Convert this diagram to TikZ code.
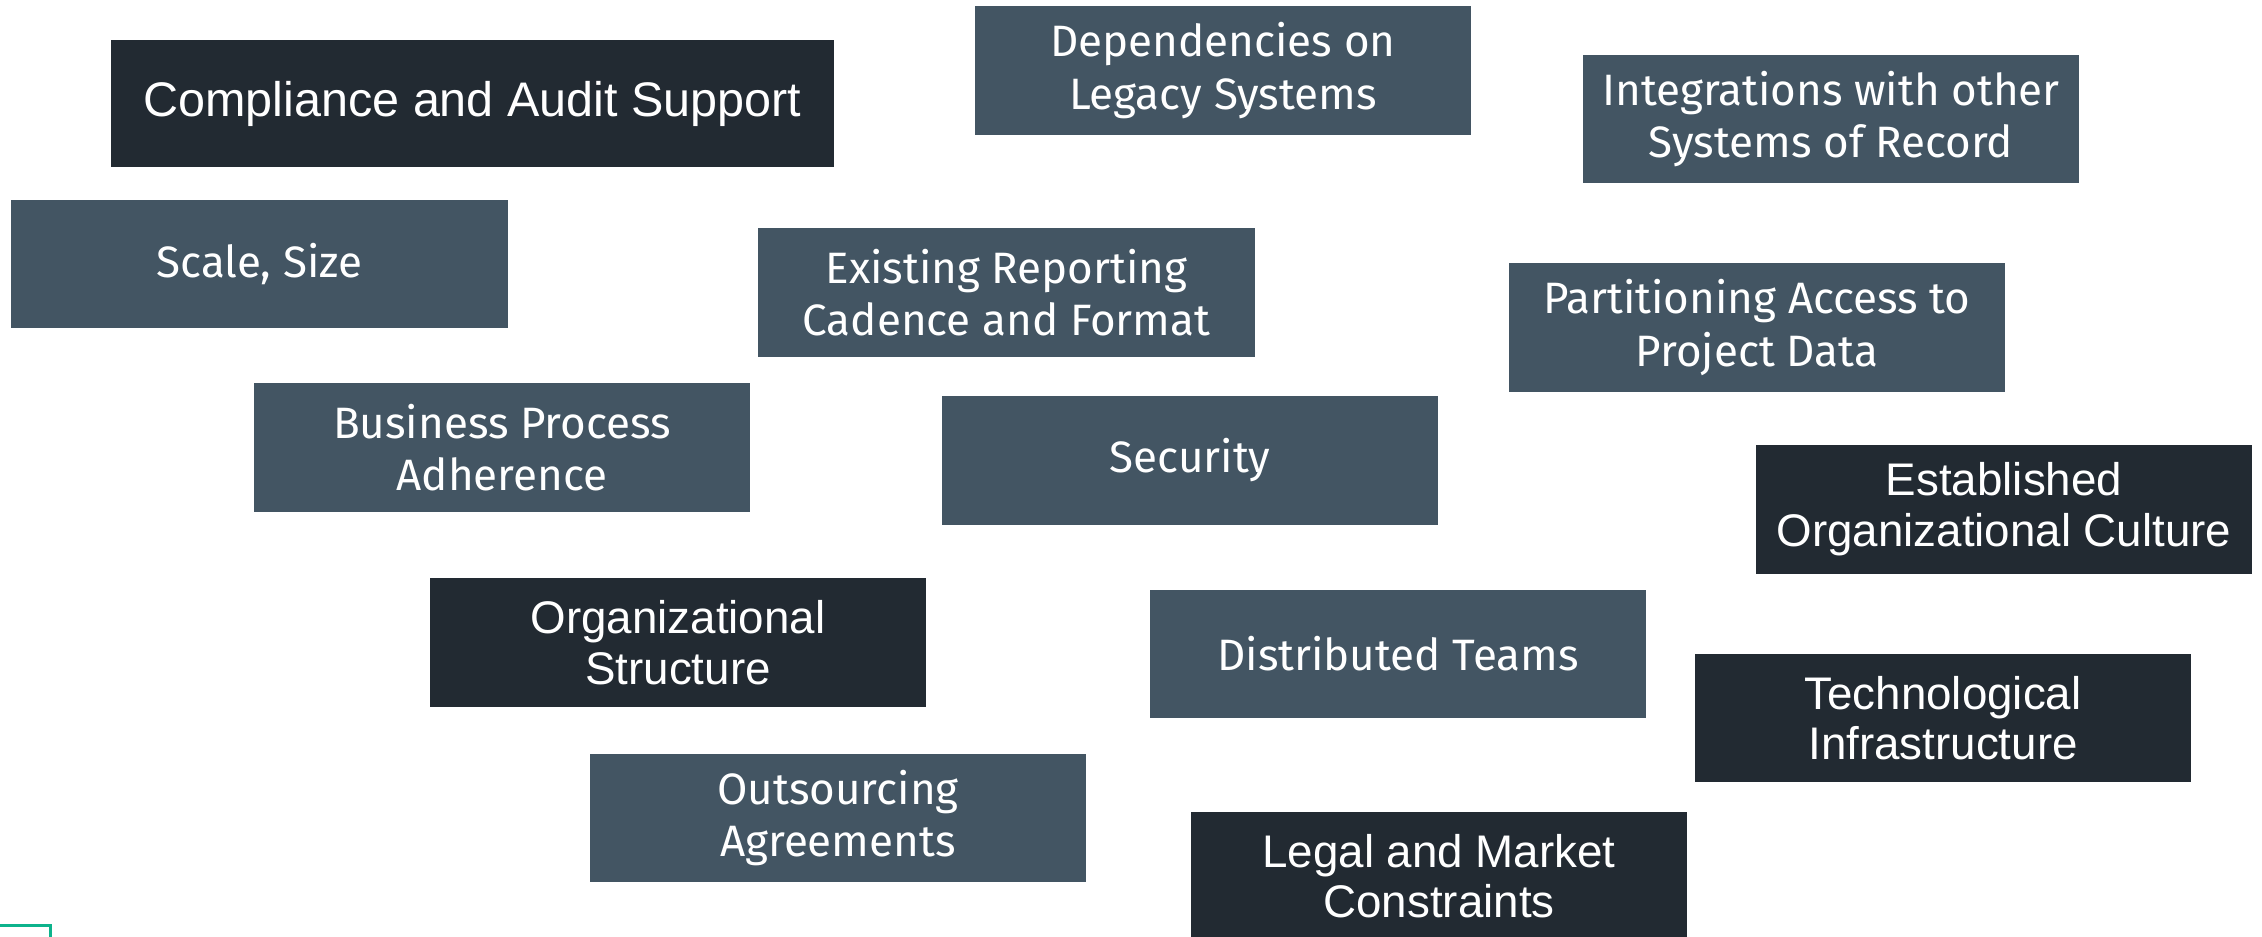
\documentclass[tikz,border=0pt]{standalone}
\usepackage{fontspec}
\setmainfont{Liberation Sans}
\newfontfamily\boxfont{Fira Sans}
\usepackage{xcolor}
\usepackage{tikz}
\usetikzlibrary{positioning}

\definecolor{slate}{HTML}{435563}
\definecolor{ink}{HTML}{222A32}
\definecolor{mint}{HTML}{0DB38C}

\tikzset{
  gbox/.style={fill=slate, text=white, align=center, inner sep=0pt,
    minimum width=4.96cm, minimum height=1.28cm,
    font=\boxfont\fontsize{12.5}{15}\selectfont},
  dbox/.style={gbox, fill=ink,
    font=\fontsize{13}{14.4}\selectfont},
}

\begin{document}
\begin{tikzpicture}[x=0.01cm,y=-0.01cm]
        \path[use as bounding box, clip] (0,0) rectangle (2262,937);

        % top row
        \node[dbox, minimum width=7.23cm, minimum height=1.27cm,
          font=\fontsize{13.8}{16}\selectfont] (comp) at (472.5,103.5) {Compliance and Audit Support};
        \node[gbox] (dep) at (1223,70.5) {Dependencies on\\Legacy Systems};
        \node[gbox] (integ) at (1831,119) {Integrations with other\\Systems of Record};

        \node[gbox] (scale) at (259.5,264) {Scale, Size};
        \node[gbox] (report) at (1006.5,292.5) {Existing Reporting\\Cadence and Format};
        \node[gbox] (part) at (1757,327.5) {Partitioning Access to\\Project Data};

        % middle
        \node[gbox] (busi) at (502,447.5) {Business Process\\Adherence};
        \node[gbox] (secu) at (1190,460.5) {Security};
        \node[dbox] (estab) at (2004,509.5) {Established\\Organizational Culture};

        \node[dbox] (orgst) at (678,642.5) {Organizational\\Structure};
        \node[gbox] (distr) at (1398,654) {Distributed Teams};
        \node[dbox] (tech) at (1943,718) {Technological\\Infrastructure};

        % bottom row
        \node[gbox] (outs) at (838,818) {Outsourcing\\Agreements};
        \node[dbox] (legal) at (1439,876) {Legal and Market\\Constraints};

        % corner mark
        \draw[mint, line width=0.03cm] (-20,925.5) rectangle (50.5,980);
\end{tikzpicture}
\end{document}
